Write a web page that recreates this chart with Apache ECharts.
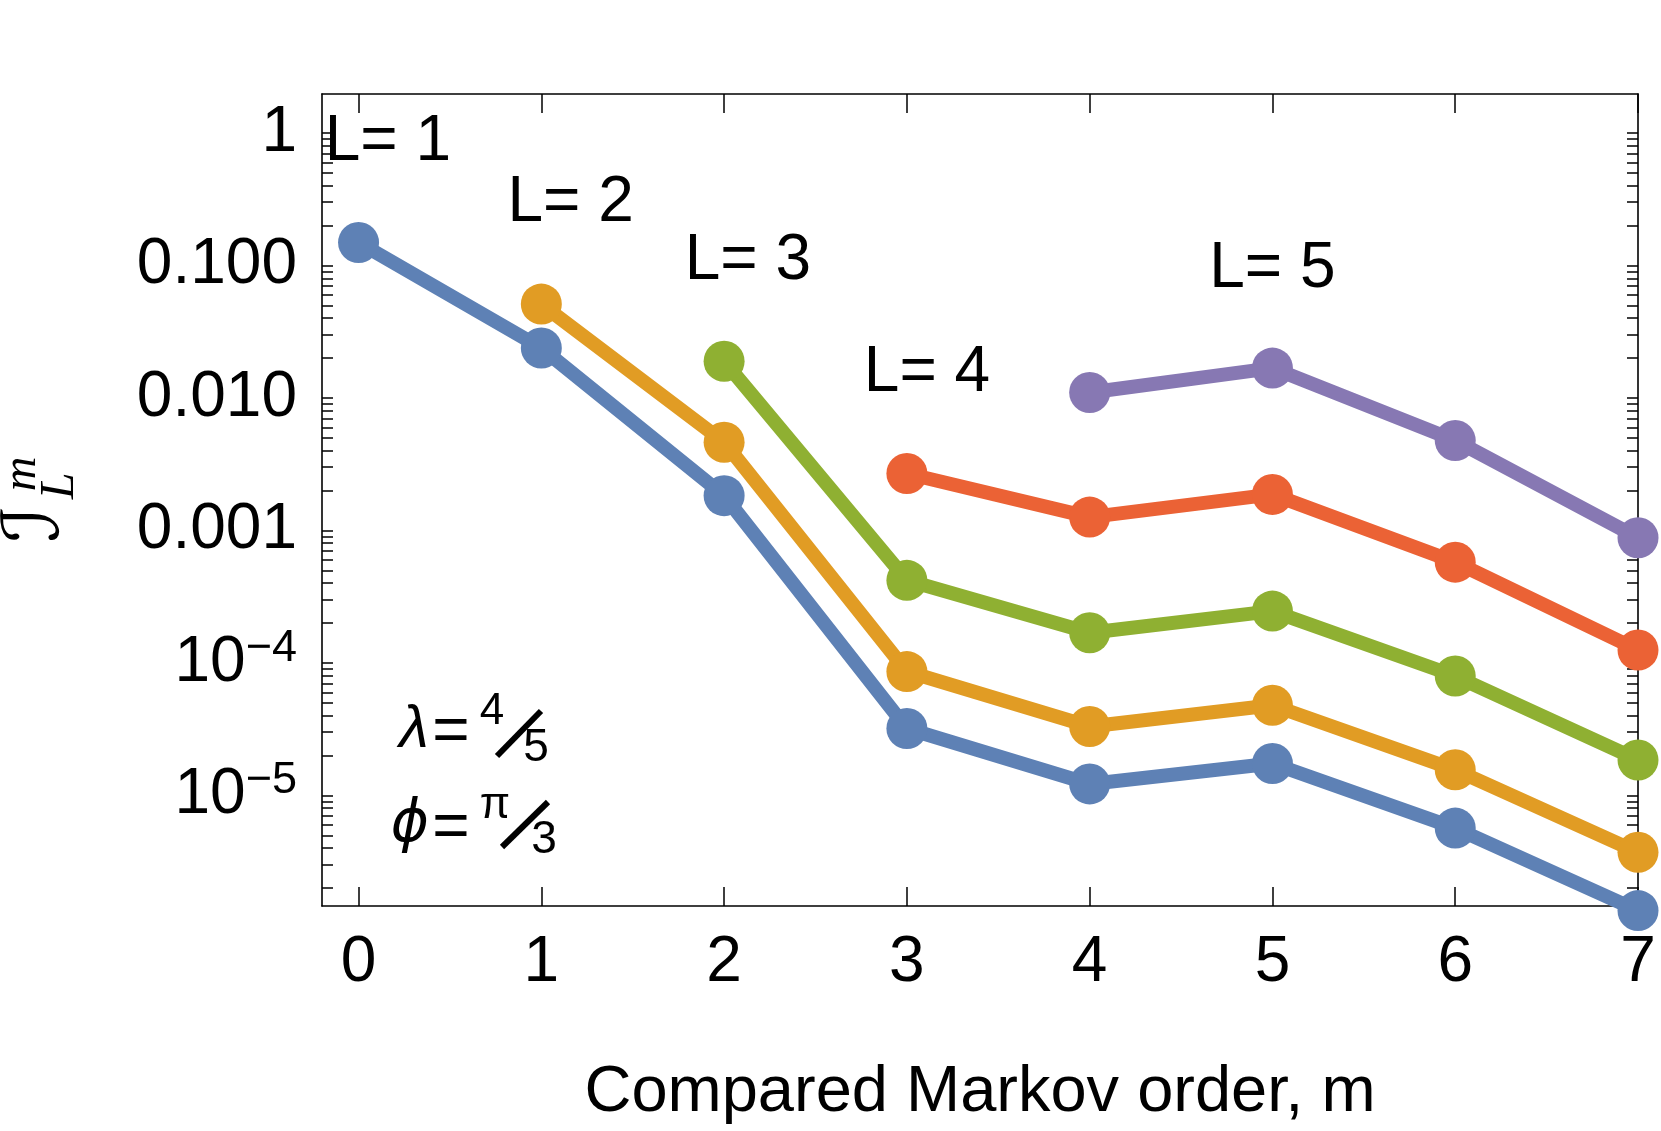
<!DOCTYPE html>
<html><head><meta charset="utf-8">
<script src="https://cdn.jsdelivr.net/npm/echarts@6/dist/echarts.min.js"></script>
<style>html,body{margin:0;padding:0;background:#fff}#c{width:1661px;height:1131px}</style>
</head><body><div id="c"></div>
<script>
// ---- data ----
const mValues = [0, 1, 2, 3, 4, 5, 6, 7];
const seriesNames = ['L=1', 'L=2', 'L=3', 'L=4', 'L=5'];
const startM = [0, 1, 2, 3, 4];
const valuesL1 = [0.149, 0.0238, 1.83e-3, 3.20e-5, 1.22e-5, 1.74e-5, 5.66e-6, 1.35e-6];
const valuesL2 = [0.0511, 4.63e-3, 8.60e-5, 3.31e-5, 4.79e-5, 1.56e-5, 3.72e-6];
const valuesL3 = [0.0189, 4.20e-4, 1.69e-4, 2.46e-4, 7.96e-5, 1.85e-5];
const valuesL4 = [2.69e-3, 1.26e-3, 1.87e-3, 5.76e-4, 1.25e-4];
const valuesL5 = [0.0110, 0.0168, 4.77e-3, 8.81e-4];
const colors = ['#5E81B5', '#E19C24', '#8FB032', '#EB6235', '#8778B3'];
const xTickLabels = ['0', '1', '2', '3', '4', '5', '6', '7'];
const yTickPowers = [0, -1, -2, -3, -4, -5];
const yTickLabels = ['1', '0.100', '0.010', '0.001', '{b|10}{s|\u22124}', '{b|10}{s|\u22125}'];
const annotationText = ['L= 1', 'L= 2', 'L= 3', 'L= 4', 'L= 5'];
const annotationM = [0.16, 1.16, 2.13, 3.11, 5.0];
const annotationValue = [0.855, 0.292, 0.108, 0.0152, 0.0927];
const xName = 'Compared Markov order, m';

// ---- axis ranges ----
const X_MIN = -0.2, X_MAX = 7;
const LOG_MIN = -5.835, LOG_MAX = 0.294;

const allValues = [valuesL1, valuesL2, valuesL3, valuesL4, valuesL5];
const minorTicks = [];
for (let p = -6; p <= 0; p++) {
  for (let k = 1; k <= 9; k++) {
    const v = Math.log10(k) + p;
    if (v >= LOG_MIN && v <= LOG_MAX) minorTicks.push(v);
  }
}
const FONT = '"Liberation Sans", Arial, sans-serif';

const series = allValues.map((vals, i) => ({
  name: seriesNames[i],
  type: 'line',
  xAxisIndex: 0,
  yAxisIndex: 0,
  clip: false,
  data: vals.map((v, j) => [mValues[startM[i] + j], v]),
  symbol: 'circle',
  symbolSize: 41,
  itemStyle: { color: colors[i] },
  lineStyle: { color: colors[i], width: 14, cap: 'round', join: 'round' },
  emphasis: { disabled: true },
  animation: false,
  z: 2 + i
}));
series.push({
  type: 'scatter',
  xAxisIndex: 0, yAxisIndex: 0,
  clip: false,
  symbolSize: 1,
  itemStyle: { color: 'rgba(0,0,0,0)', opacity: 1 },
  data: annotationText.map((t, i) => [annotationM[i], annotationValue[i], t]),
  label: {
    show: true, position: 'inside', formatter: p => p.data[2],
    fontSize: 64, color: '#000', opacity: 1, fontFamily: FONT
  },
  emphasis: { disabled: true },
  silent: true, animation: false, z: 10
});

const tickStyle = { color: '#000', width: 1.5 };
const lineStyleAxis = { color: '#000', width: 1.6 };

const chart = echarts.init(document.getElementById('c'), null, { renderer: 'canvas' });
chart.setOption({
  animation: false,
  backgroundColor: '#fff',
  textStyle: { fontFamily: FONT },
  grid: { left: 322, right: 23, top: 94, bottom: 224, containLabel: false },
  xAxis: [
    {
      type: 'value', position: 'bottom', min: X_MIN, max: X_MAX,
      axisLine: { show: true, onZero: false, lineStyle: lineStyleAxis },
      axisTick: { show: true, inside: true, length: 19, customValues: mValues, lineStyle: tickStyle },
      axisLabel: {
        show: true, customValues: mValues, margin: 25, fontSize: 64, color: '#000', fontFamily: FONT,
        formatter: v => xTickLabels[mValues.indexOf(Math.round(v))]
      },
      splitLine: { show: false },
      name: xName, nameLocation: 'middle', nameGap: 155,
      nameTextStyle: { fontSize: 65, color: '#000', fontFamily: FONT }
    },
    {
      type: 'value', position: 'top', min: X_MIN, max: X_MAX,
      axisLine: { show: true, onZero: false, lineStyle: lineStyleAxis },
      axisTick: { show: true, inside: true, length: 19, customValues: mValues, lineStyle: tickStyle },
      axisLabel: { show: false },
      splitLine: { show: false }
    }
  ],
  yAxis: [
    {
      type: 'log', logBase: 10, min: Math.pow(10, LOG_MIN), max: Math.pow(10, LOG_MAX),
      show: false, splitLine: { show: false }
    },
    {
      type: 'value', position: 'left', min: LOG_MIN, max: LOG_MAX,
      axisLine: { show: true, onZero: false, lineStyle: lineStyleAxis },
      axisTick: { show: true, inside: true, length: 11, customValues: minorTicks, lineStyle: tickStyle },
      axisLabel: {
        show: true, customValues: yTickPowers, margin: 25, fontSize: 64, color: '#000', fontFamily: FONT,
        formatter: v => yTickLabels[yTickPowers.indexOf(Math.round(v))],
        rich: {
          b: { fontSize: 64, lineHeight: 64, verticalAlign: 'bottom', color: '#000', fontFamily: FONT },
          s: { fontSize: 45, lineHeight: 45, verticalAlign: 'bottom', padding: [0, 0, 24, 0], color: '#000', fontFamily: FONT }
        }
      },
      splitLine: { show: false }
    },
    {
      type: 'value', position: 'right', min: LOG_MIN, max: LOG_MAX,
      axisLine: { show: true, onZero: false, lineStyle: lineStyleAxis },
      axisTick: { show: true, inside: true, length: 11, customValues: minorTicks, lineStyle: tickStyle },
      axisLabel: { show: false },
      splitLine: { show: false }
    }
  ],
  graphic: [
    {
      type: 'group', x: 62, y: 546, rotation: Math.PI / 2, silent: true,
      children: [
        { type: 'text', x: 22, y: -24, style: { text: '\u2110', fontSize: 78, fontStyle: 'italic', fontFamily: '"DejaVu Serif", "DejaVu Sans", serif', align: 'center', verticalAlign: 'middle', fill: '#000' } },
        { type: 'text', x: 60, y: -2, style: { text: 'L', fontSize: 48, fontStyle: 'italic', fontFamily: '"Liberation Serif", serif', align: 'center', verticalAlign: 'middle', fill: '#000' } },
        { type: 'text', x: 72, y: -40, style: { text: 'm', fontSize: 48, fontStyle: 'italic', fontFamily: '"Liberation Serif", serif', align: 'center', verticalAlign: 'middle', fill: '#000' } }
      ]
    },
    {
      type: 'group', x: 0, y: 0, silent: true,
      children: [
        { type: 'text', x: 414, y: 730, style: { text: '\u03bb', fontSize: 60, fontStyle: 'italic', fontFamily: FONT, align: 'center', verticalAlign: 'middle', fill: '#000' } },
        { type: 'text', x: 451, y: 733, style: { text: '=', fontSize: 64, fontFamily: FONT, align: 'center', verticalAlign: 'middle', fill: '#000' } },
        { type: 'text', x: 492, y: 712, style: { text: '4', fontSize: 44, fontFamily: FONT, align: 'center', verticalAlign: 'middle', fill: '#000' } },
        { type: 'line', shape: { x1: 497, y1: 756, x2: 541, y2: 711 }, style: { stroke: '#000', lineWidth: 6 } },
        { type: 'text', x: 536, y: 748, style: { text: '5', fontSize: 46, fontFamily: FONT, align: 'center', verticalAlign: 'middle', fill: '#000' } },

        { type: 'text', x: 410, y: 826, style: { text: '\u03d5', fontSize: 58, fontStyle: 'italic', fontFamily: '"DejaVu Sans", sans-serif', align: 'center', verticalAlign: 'middle', fill: '#000' } },
        { type: 'text', x: 451, y: 829, style: { text: '=', fontSize: 64, fontFamily: FONT, align: 'center', verticalAlign: 'middle', fill: '#000' } },
        { type: 'text', x: 495, y: 806, style: { text: '\u03c0', fontSize: 44, fontFamily: FONT, align: 'center', verticalAlign: 'middle', fill: '#000' } },
        { type: 'line', shape: { x1: 502, y1: 847, x2: 548, y2: 802 }, style: { stroke: '#000', lineWidth: 6 } },
        { type: 'text', x: 544, y: 840, style: { text: '3', fontSize: 46, fontFamily: FONT, align: 'center', verticalAlign: 'middle', fill: '#000' } }
      ]
    }
  ],
  series: series
});
</script>
</body></html>
